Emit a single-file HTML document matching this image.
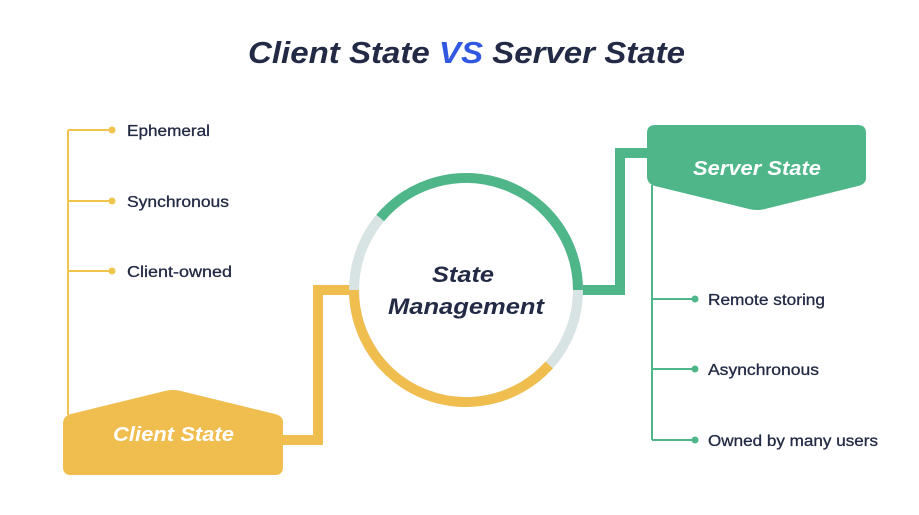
<!DOCTYPE html>
<html><head><style>
body{margin:0;background:#fff;width:919px;height:510px;overflow:hidden}
</style></head><body>
<svg width="919" height="510" viewBox="0 0 919 510" xmlns="http://www.w3.org/2000/svg" font-family="Liberation Sans, sans-serif">
<text x="248" y="63" textLength="437" lengthAdjust="spacingAndGlyphs" font-size="31" font-weight="bold" font-style="italic" fill="#232a45">Client State <tspan fill="#3158e0">VS</tspan> Server State</text>
<!-- left list -->
<g stroke="#f0c44e" stroke-width="2" fill="none">
<path d="M68 130 V415 M68 130 H112 M68 201 H112 M68 271 H112"/>
</g>
<g fill="#f0c44e"><circle cx="112" cy="130" r="3.5"/><circle cx="112" cy="201" r="3.5"/><circle cx="112" cy="271" r="3.5"/></g>
<g font-size="15.5" fill="#232a45" stroke="#232a45" stroke-width="0.3">
<text x="127" y="136" textLength="83" lengthAdjust="spacingAndGlyphs">Ephemeral</text>
<text x="127" y="207" textLength="102" lengthAdjust="spacingAndGlyphs">Synchronous</text>
<text x="127" y="277" textLength="105" lengthAdjust="spacingAndGlyphs">Client-owned</text>
</g>
<!-- right list -->
<g stroke="#4fb68a" stroke-width="2" fill="none">
<path d="M652 185 V440 M652 299 H695 M652 369 H695 M652 440 H695"/>
</g>
<g fill="#4fb68a"><circle cx="695" cy="299" r="3.5"/><circle cx="695" cy="369" r="3.5"/><circle cx="695" cy="440" r="3.5"/></g>
<g font-size="15.5" fill="#232a45" stroke="#232a45" stroke-width="0.3">
<text x="708" y="305" textLength="117" lengthAdjust="spacingAndGlyphs">Remote storing</text>
<text x="708" y="375" textLength="111" lengthAdjust="spacingAndGlyphs">Asynchronous</text>
<text x="708" y="446" textLength="170" lengthAdjust="spacingAndGlyphs">Owned by many users</text>
</g>
<!-- connectors -->
<path d="M575 290 H620 V153 H660" stroke="#4fb68a" stroke-width="10" fill="none"/>
<path d="M358 290 H318 V440 H270" stroke="#f0bd4f" stroke-width="10" fill="none"/>
<!-- circle -->
<circle cx="466" cy="290" r="112" stroke="#d8e3e3" stroke-width="10" fill="#fff"/>
<path d="M380.2 218 A112 112 0 0 1 578 290" stroke="#4fb68a" stroke-width="10" fill="none"/>
<path d="M549.2 365 A112 112 0 0 1 354 290" stroke="#f0bd4f" stroke-width="10" fill="none"/>
<text x="432" y="282" textLength="62" lengthAdjust="spacingAndGlyphs" font-size="22" font-weight="bold" font-style="italic" fill="#232a45">State</text>
<text x="388" y="314" textLength="156" lengthAdjust="spacingAndGlyphs" font-size="22" font-weight="bold" font-style="italic" fill="#232a45">Management</text>
<!-- server box -->
<path d="M655 125 H858 Q866 125 866 133 V178 Q866 184 858 186 L765 209 Q757 211 749 209 L655 186 Q647 184 647 176 V133 Q647 125 655 125 Z" fill="#4fb68a"/>
<text x="693" y="175" textLength="128" lengthAdjust="spacingAndGlyphs" font-size="20" font-weight="bold" font-style="italic" fill="#fff">Server State</text>
<!-- client box -->
<path d="M71 475 H275 Q283 475 283 467 V422 Q283 416 275 414 L181 391 Q173 389 165 391 L71 414 Q63 416 63 424 V467 Q63 475 71 475 Z" fill="#f0bd4f"/>
<text x="113" y="441" textLength="121" lengthAdjust="spacingAndGlyphs" font-size="20" font-weight="bold" font-style="italic" fill="#fff">Client State</text>
</svg>
</body></html>
